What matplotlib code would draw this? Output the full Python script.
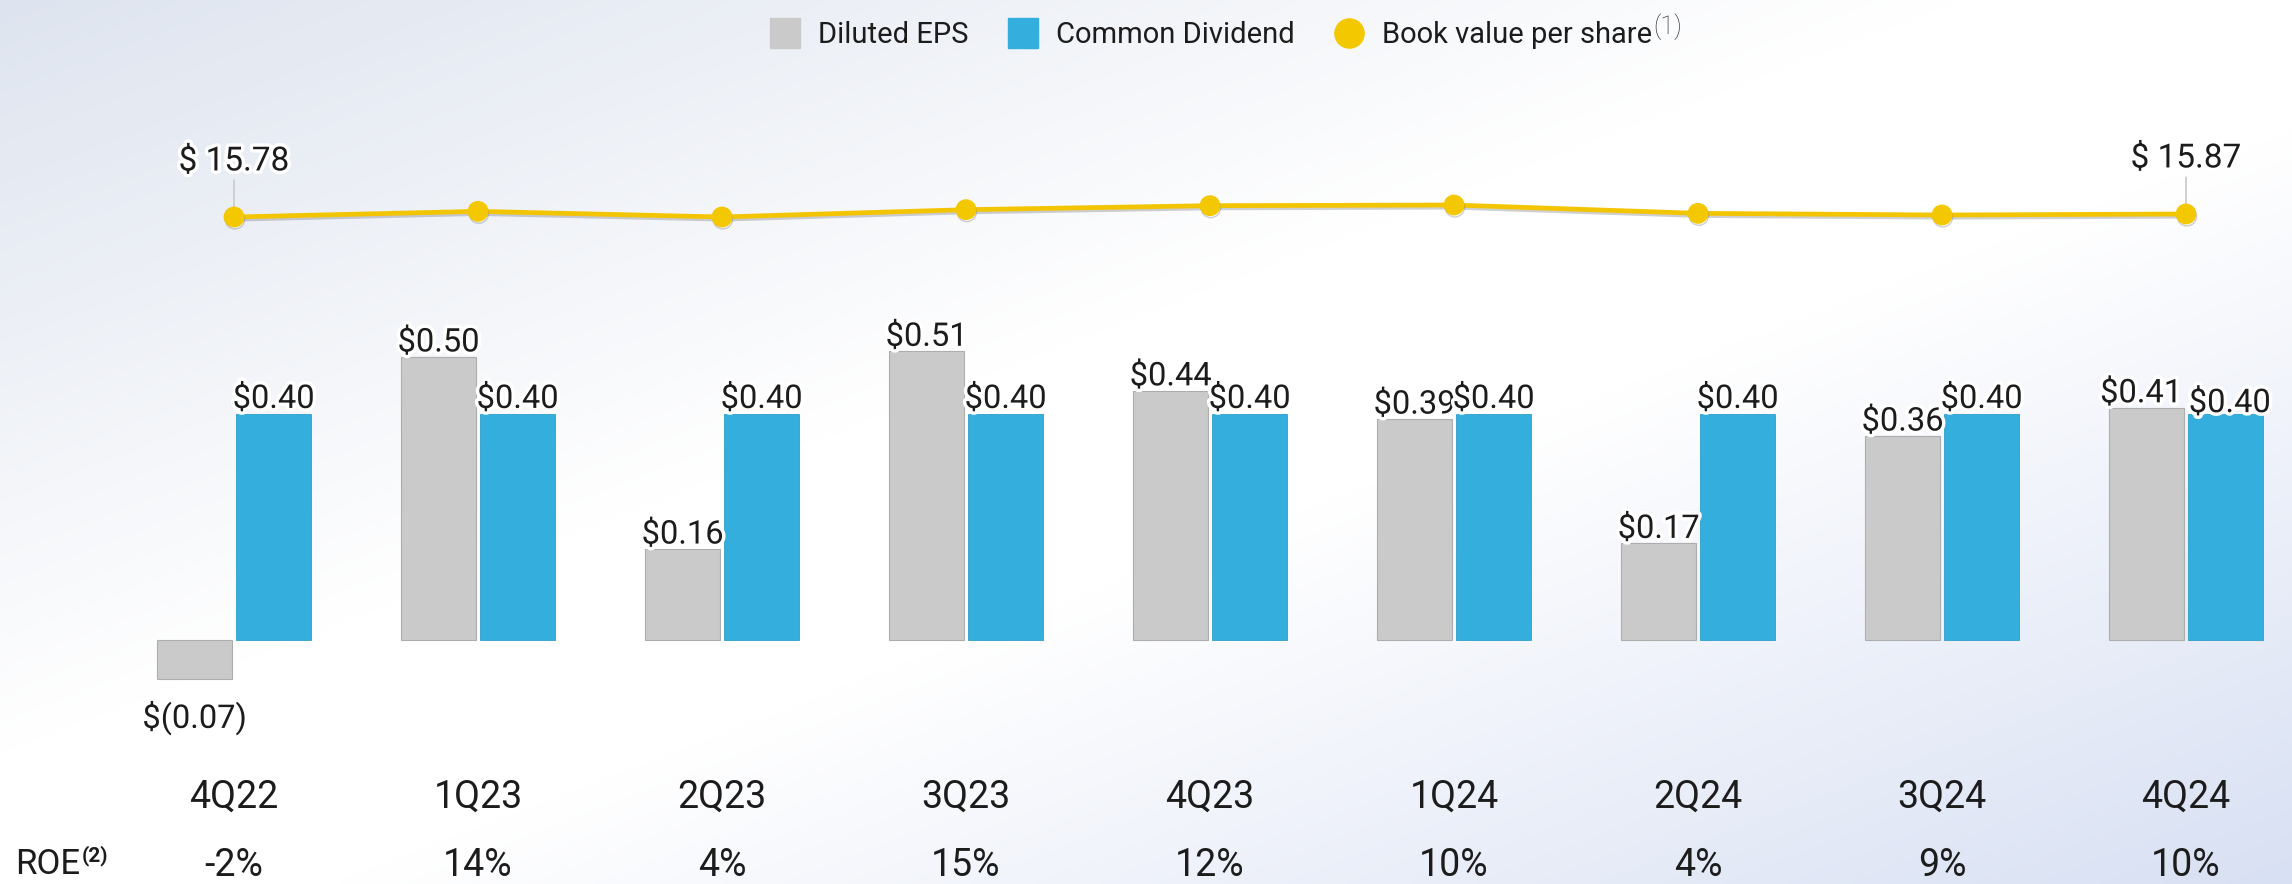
import numpy as np
import matplotlib
matplotlib.use("Agg")
import matplotlib.pyplot as plt
from matplotlib import patheffects as pe
from matplotlib.lines import Line2D

# ---------------- data ----------------
quarters = ["4Q22", "1Q23", "2Q23", "3Q23", "4Q23", "1Q24", "2Q24", "3Q24", "4Q24"]
diluted_eps = [-0.07, 0.50, 0.16, 0.51, 0.44, 0.39, 0.17, 0.36, 0.41]
common_dividend = [0.40, 0.40, 0.40, 0.40, 0.40, 0.40, 0.40, 0.40, 0.40]
book_value = [15.78, 15.95, 15.78, 16.00, 16.12, 16.14, 15.89, 15.84, 15.87]
roe = ["-2%", "14%", "4%", "15%", "12%", "10%", "4%", "9%", "10%"]
bv_labeled = [0, 8]

plt.rcParams['font.family'] = ['Roboto', 'DejaVu Sans']
TXT = '#1c1c1c'
GRAY = '#CACACA'
BLUE = '#33AEDD'
YEL = '#F3C500'

W, H = 2292, 884
fig = plt.figure(figsize=(W / 100, H / 100), dpi=100)

# ---------------- background gradient ----------------
bg = fig.add_axes([0, 0, 1, 1], zorder=-10)
gx = np.linspace(0, 1, 460)
gy = np.linspace(0, 1, 180)
X, Y = np.meshgrid(gx, gy)
t = X + Y
c0 = np.array([0xDE, 0xE4, 0xEF]) / 255
c1 = np.array([1.0, 1.0, 1.0])
c2 = np.array([0xD8, 0xE0, 0xF3]) / 255
f1 = np.clip(t / 0.85, 0, 1)[..., None]
f2 = np.clip((t - 1.15) / 0.85, 0, 1)[..., None]
img = np.where((t < 1.0)[..., None], c0 * (1 - f1) + c1 * f1, c1 * (1 - f2) + c2 * f2)
bg.imshow(img, aspect='auto', extent=[0, 1, 0, 1], origin='upper', interpolation='bilinear')
bg.set_xlim(0, 1)
bg.set_ylim(0, 1)
bg.axis('off')

# ---------------- main axes (bars) ----------------
ax = fig.add_axes([0, 0, 1, 1])
ax.patch.set_alpha(0)
x0_px, step_px = 234.0, 244.0
base_px, unit_px = 639.5, 565.0
ax.set_xlim(-x0_px / step_px, (W - x0_px) / step_px)
ax.set_ylim((base_px - H) / unit_px, base_px / unit_px)
ax.axis('off')

x = np.arange(len(quarters))
bw = 74.5 / step_px
off = 39.5 / step_px
ax.bar(x - off, diluted_eps, width=bw, color=GRAY, edgecolor='#ADADAD', linewidth=0.8, zorder=2)
ax.bar(x + off, common_dividend, width=bw, color=BLUE, edgecolor='#2E9FCB', linewidth=0.6, zorder=2)

halo = [pe.withStroke(linewidth=5, foreground='white')]
VFS = 23.5
nudge_eps = {8: (-4, 0)}
nudge_div = {8: (3, -3)}
for i, v in enumerate(diluted_eps):
    dx, dy = nudge_eps.get(i, (0, 0))
    if v >= 0:
        ax.annotate(f"${v:.2f}", (x[i] - off, v), xytext=(dx, 4 + dy), textcoords='offset points',
                    ha='center', va='baseline', fontsize=VFS, color=TXT, path_effects=halo, zorder=5)
    else:
        ax.annotate(f"$({abs(v):.2f})", (x[i] - off, v), xytext=(dx, -15 + dy), textcoords='offset points',
                    ha='center', va='top', fontsize=VFS, color=TXT, path_effects=halo, zorder=5)
for i, v in enumerate(common_dividend):
    dx, dy = nudge_div.get(i, (0, 0))
    ax.annotate(f"${v:.2f}", (x[i] + off, v), xytext=(dx, 4 + dy), textcoords='offset points',
                ha='center', va='baseline', fontsize=VFS, color=TXT, path_effects=halo, zorder=5)

cat_y = (base_px - 797) / unit_px
roe_y = (base_px - 865) / unit_px
for i, q in enumerate(quarters):
    ax.text(x[i], cat_y, q, ha='center', va='center', fontsize=27, color=TXT)
    ax.text(x[i], roe_y, roe[i], ha='center', va='center', fontsize=27, color=TXT)

roe_lbl = fig.text(15 / W, 1 - 865 / H, "ROE", ha='left', va='center', fontsize=25, color=TXT)

# ---------------- book value line ----------------
ax2 = ax.twinx()
ax2.set_position([0, 0, 1, 1])
k = 33.3
bv_ref_px = 217.0
ax2.set_ylim(book_value[0] - (H - bv_ref_px) / k, book_value[0] + bv_ref_px / k)
ax2.axis('off')
ax2.plot(x, book_value, color=YEL, lw=3.4, marker='o', ms=14, mfc='#F4C800', mec='#F4C800',
         solid_capstyle='round', zorder=3,
         path_effects=[pe.SimpleLineShadow(offset=(0.6, -1.6), shadow_color='#777777', alpha=0.35),
                       pe.Normal()])
for i in bv_labeled:
    ax2.annotate(f"$ {book_value[i]:.2f}", (x[i], book_value[i]), xytext=(0, 40), textcoords='offset points',
                 ha='center', va='center', fontsize=24, color=TXT, path_effects=halo,
                 arrowprops=dict(arrowstyle='-', color='#C9C9C9', lw=1.2, shrinkA=0, shrinkB=0), zorder=1)

# ---------------- legend ----------------
handles = [
    Line2D([], [], marker='s', ls='none', markersize=21, mfc=GRAY, mec=GRAY),
    Line2D([], [], marker='s', ls='none', markersize=21, mfc=BLUE, mec=BLUE),
    Line2D([], [], marker='o', ls='none', markersize=21, mfc='#F4C800', mec='#F4C800'),
]
labels = ["Diluted EPS", "Common Dividend", "Book value per share"]
leg = fig.legend(handles, labels, loc='center', bbox_to_anchor=(0.5285, 1 - 35 / H), ncol=3,
                 frameon=False, fontsize=21, handlelength=1.0, handletextpad=0.65,
                 columnspacing=1.35, borderaxespad=0, labelcolor=TXT)

# ---------------- superscripts (placed after layout) ----------------
fig.canvas.draw()
r = fig.canvas.get_renderer()
bb = roe_lbl.get_window_extent(r)
fig.text((bb.x1 + 2) / W, (bb.y1 + 3) / H, "(2)", ha='left', va='top', fontsize=15,
         fontweight='bold', color=TXT)
bb = leg.get_texts()[2].get_window_extent(r)
fig.text((bb.x1 + 1) / W, (bb.y1 + 8) / H, "(1)", ha='left', va='top', fontsize=18,
         fontweight='light', color='#2a2a2a')

fig.savefig('out.png', dpi=100)
